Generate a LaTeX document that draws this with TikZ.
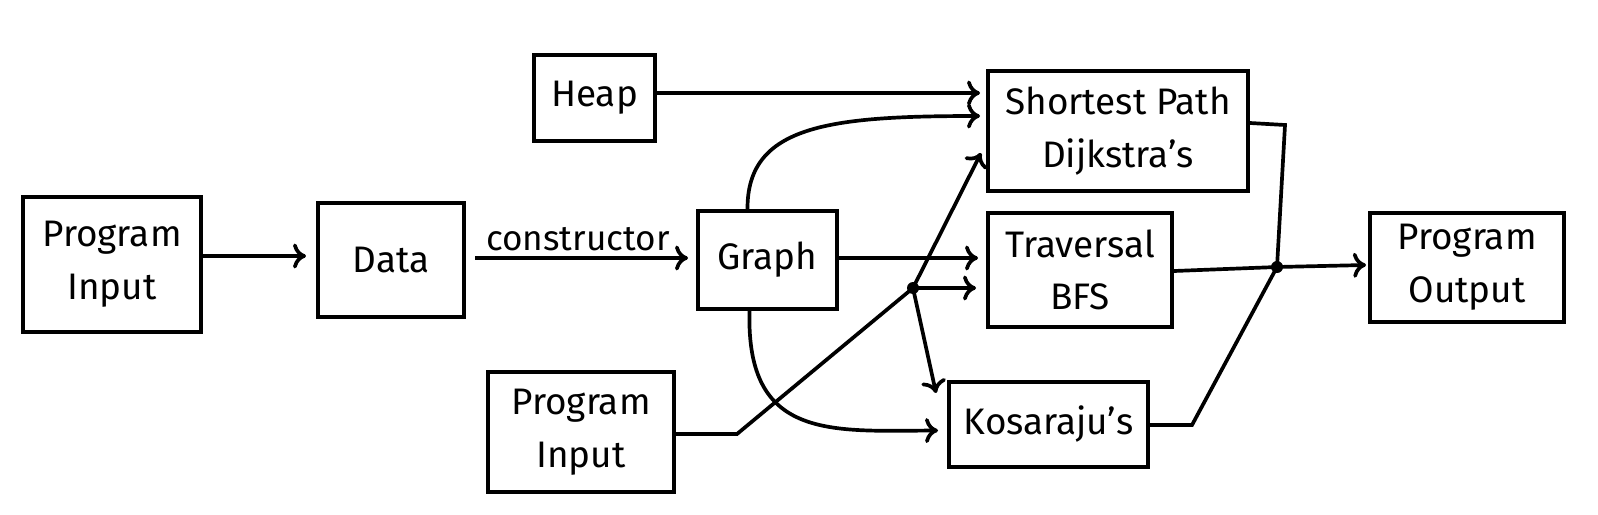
\documentclass[tikz,border=0pt]{standalone}
\usepackage{fontspec}
\setmainfont{Fira Sans}
\usetikzlibrary{arrows.meta,calc}
\begin{document}
\begin{tikzpicture}[x=0.02cm,y=-0.02cm,
  box/.style={draw, line width=2.3pt, inner sep=0pt, align=center,
    font=\fontsize{21}{30}\selectfont},
  lbl/.style={inner sep=0pt, font=\fontsize{20}{24}\selectfont},
  con/.style={line width=2.1pt, line join=miter},
  arr/.style={con, -{To[length=2.6mm,width=5mm,line width=2.1pt]}},
  jdot/.style={circle, fill, inner sep=0pt, minimum size=2.4mm}]
\useasboundingbox[fill=white] (0,0) rectangle (1598,514);

% boxes
\node[box, minimum width=3.56cm, minimum height=2.70cm] (pin1) at (112,264.5) {Program\\Input};
\node[box, minimum width=2.92cm, minimum height=2.28cm] (data) at (391,260) {Data};
\node[box, minimum width=2.78cm, minimum height=1.96cm] (graph) at (767.5,260) {Graph};
\node[box, minimum width=2.42cm, minimum height=1.72cm] (heap) at (594.5,98) {Heap};
\node[box, minimum width=5.20cm, minimum height=2.40cm] (sp) at (1118,131) {Shortest Path\\Dijkstra’s};
\node[box, minimum width=3.68cm, minimum height=2.28cm] (trav) at (1080,270) {Traversal\\BFS};
\node[box, minimum width=3.98cm, minimum height=1.70cm] (kos) at (1048.5,424.5) {Kosaraju’s};
\node[box, minimum width=3.72cm, minimum height=2.40cm] (pin2) at (581,432) {Program\\Input};
\node[box, minimum width=3.88cm, minimum height=2.18cm] (pout) at (1467,267.5) {Program\\Output};

% junctions and bends
\node[jdot] (j1) at (913,288) {};
\node[jdot] (j2) at (1277,267) {};
\coordinate (b1) at (737,434);
\coordinate (b2) at (1285,125);
\coordinate (b3) at (1192,425);

% label
\node[lbl, anchor=base] (cons) at (578,250) {constructor};

% connectors
\draw[arr] ($(pin1.east)+(0,-8.5)$) -- ($(data.west)+(-10,-4)$);
\draw[arr] ($(data.east)+(9,-2)$) -- ($(graph.west)+(-8,-2)$);
\draw[arr] ($(heap.east)+(0,-5)$) -- ($(sp.west)+(-6,-38)$);
\draw[arr] ($(graph.north)+(-20,0)$) .. controls (747,125) and (830,116) .. ($(sp.west)+(-6,-15)$);
\draw[arr] ($(graph.east)+(0,-2)$) -- ($(trav.west)+(-8,-12)$);
\draw[arr] ($(graph.south)+(-18,0)$) .. controls (746,440) and (830,431) .. ($(kos.west)+(-9,6)$);
\draw[arr] ($(pin2.east)+(0,2)$) -- (b1) -- (j1.center) -- ($(sp.west)+(-5,22)$);
\draw[arr] (j1.center) -- ($(trav.west)+(-10,18)$);
\draw[arr] (j1.center) -- ($(kos.north west)+(-11,13)$);
\draw[con] ($(sp.east)+(0,-8)$) -- (b2) -- (j2.center);
\draw[con] ($(trav.east)+(0,1)$) -- (j2.center);
\draw[con] ($(kos.east)+(0,0.5)$) -- (b3) -- (j2.center);
\draw[arr] (j2.center) -- ($(pout.west)+(-2,-2.5)$);
\end{tikzpicture}
\end{document}
